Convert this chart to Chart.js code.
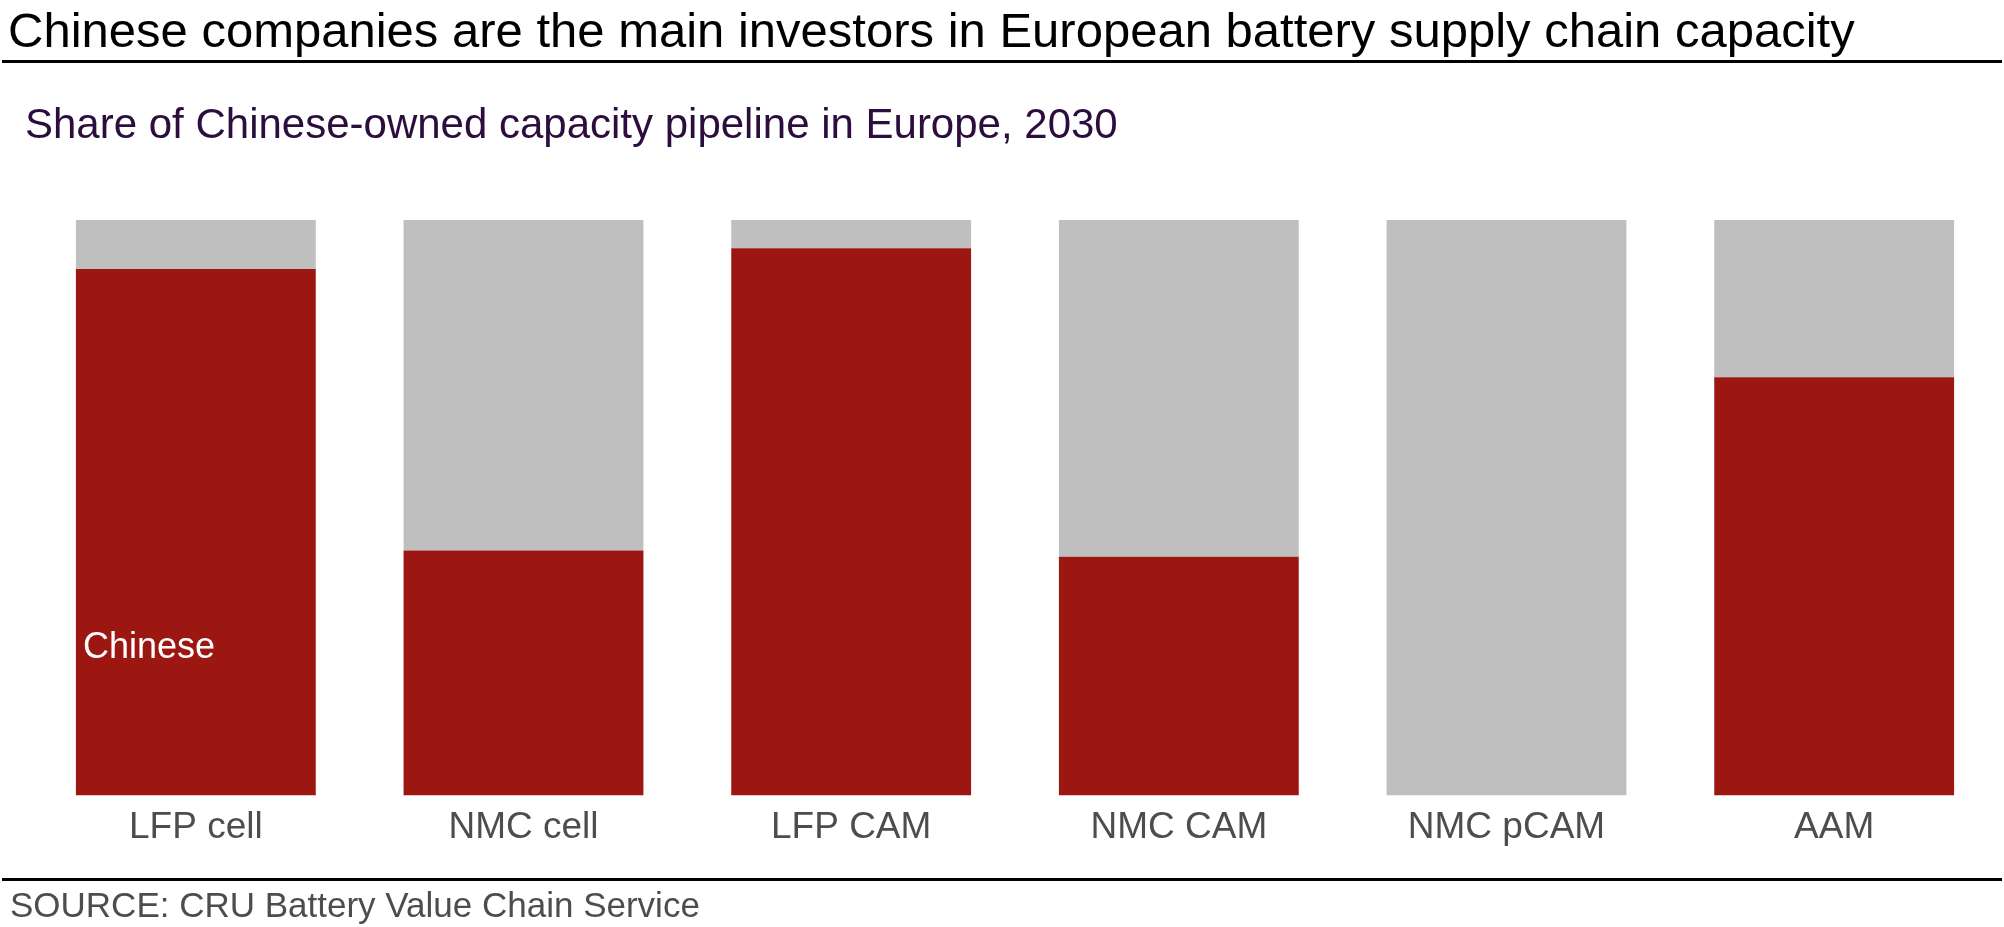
<!DOCTYPE html>
<html>
<head>
<meta charset="utf-8">
<script src="https://cdn.jsdelivr.net/npm/chart.js@4.4.0/dist/chart.umd.min.js"></script>
<style>
  html, body { margin: 0; padding: 0; background: #fff; }
  #wrap { width: 2004px; height: 927px; }
</style>
</head>
<body>
<div id="wrap"><canvas id="canvas" width="2004" height="927"></canvas></div>
<script>
// MARK: Data
const categories = ['LFP cell', 'NMC cell', 'LFP CAM', 'NMC CAM', 'NMC pCAM', 'AAM'];
const chineseShare = [91.5, 42.6, 95.1, 41.5, 0, 72.7];
const otherShare = [8.5, 57.4, 4.9, 58.5, 100, 27.3];

const titleText = 'Chinese companies are the main investors in European battery supply chain capacity';
const subtitleText = 'Share of Chinese-owned capacity pipeline in Europe, 2030';
const sourceText = 'SOURCE: CRU Battery Value Chain Service';
const seriesLabel = 'Chinese';

const FONT = "Arial, 'Liberation Sans', sans-serif";

// MARK: Header, footer and in-bar label
const decorations = {
  id: 'decorations',
  afterDraw(chart) {
    const c = chart.ctx;
    const w = chart.width;
    c.save();
    c.textAlign = 'left';
    c.textBaseline = 'alphabetic';

    c.fillStyle = '#000000';
    c.font = `49px ${FONT}`;
    c.fillText(titleText, 8, 47);

    c.fillStyle = '#000000';
    c.fillRect(2, 60, w - 4, 3);
    c.fillRect(2, 878, w - 4, 3);

    c.fillStyle = '#2b0d3e';
    c.font = `42px ${FONT}`;
    c.fillText(subtitleText, 25, 138);

    c.fillStyle = '#4d4d4d';
    c.font = `35px ${FONT}`;
    c.fillText(sourceText, 10, 917);

    // series label inside the first bar
    const bar = chart.getDatasetMeta(0).data[0];
    const y = chart.scales.y.getPixelForValue(25.7);
    c.fillStyle = '#ffffff';
    c.font = `36px ${FONT}`;
    c.textBaseline = 'middle';
    c.fillText(seriesLabel, bar.x - bar.width / 2 + 7, y);
    c.restore();
  }
};

// MARK: Chart
const ctx = document.getElementById('canvas').getContext('2d');

const chart = new Chart(ctx, {
  type: 'bar',
  data: {
    labels: categories,
    datasets: [
      {
        label: 'Chinese',
        data: chineseShare,
        backgroundColor: '#9c1712',
        borderWidth: 0,
        categoryPercentage: 1,
        barPercentage: 0.732
      },
      {
        label: 'Other',
        data: otherShare,
        backgroundColor: '#bfbfbf',
        borderWidth: 0,
        categoryPercentage: 1,
        barPercentage: 0.732
      }
    ]
  },
  options: {
    responsive: false,
    animation: false,
    layout: {
      padding: { top: 220, left: 32, right: 6, bottom: 75 }
    },
    plugins: {
      legend: { display: false },
      tooltip: { enabled: false },
      title: { display: false }
    },
    scales: {
      x: {
        stacked: true,
        grid: { display: false },
        border: { display: false },
        ticks: {
          color: '#4d4d4d',
          padding: 2,
          font: { family: FONT, size: 37 }
        }
      },
      y: {
        stacked: true,
        display: false,
        min: 0,
        max: 100
      }
    }
  },
  plugins: [decorations]
});
</script>
</body>
</html>
